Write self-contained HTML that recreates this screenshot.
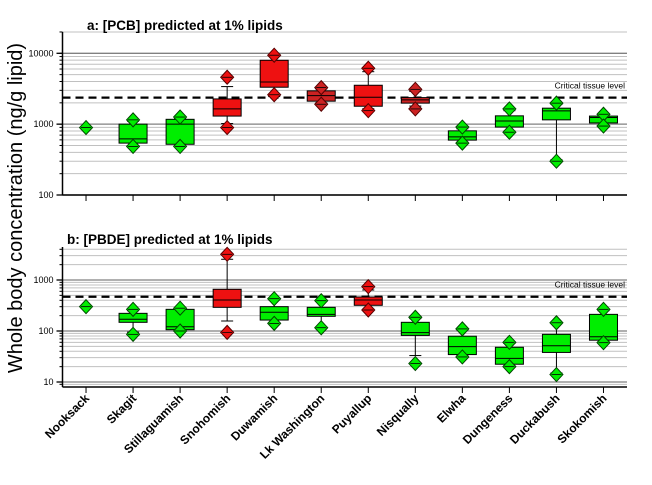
<!DOCTYPE html>
<html><head><meta charset="utf-8"><style>
html,body{margin:0;padding:0;background:#fff;}
svg{display:block;font-family:"Liberation Sans",Arial,sans-serif;}
</style></head><body>
<svg id="chart" width="652" height="485" viewBox="0 0 652 485"></svg>
<script>
const categories=["Nooksack","Skagit","Stillaguamish","Snohomish","Duwamish","Lk Washington","Puyallup","Nisqually","Elwha","Dungeness","Duckabush","Skokomish"];
// Panel a: PCB
const pcbQ1=[null,540,520,1300,3320,2110,1790,1980,595,910,1150,1040];
const pcbMed=[null,620,1000,1640,3940,2530,2400,2200,660,1110,1540,1240];
const pcbQ3=[null,1000,1170,2270,7970,2950,3540,2370,805,1310,1680,1300];
const pcbWLo=[null,560,540,1020,2450,2000,1650,1800,560,800,315,960];
const pcbWHi=[null,1100,1200,3390,9500,3150,5500,2900,860,1550,1900,1340];
const pcbDHi=[895,1150,1260,4590,9400,3280,6150,3100,910,1640,1980,1380];
const pcbDLo=[null,485,485,895,2600,1910,1550,1640,540,770,300,940];
const pcbColor=["g","g","g","r","r","d","r","d","g","g","g","g"];
const pcbCritical=2370;
// Panel b: PBDE
const pbdeQ1=[null,148,106,291,164,194,319,82,34.5,22.3,38,66];
const pbdeMed=[null,170,121,405,233,212,405,93,49.5,29,51.5,77];
const pbdeQ3=[null,222,266,657,300,291,464,148,79,48,86,212];
const pbdeWLo=[null,95,102,157,145,120,270,33,33,21,15,62];
const pbdeWHi=[null,250,275,2550,410,380,637,175,105,57,140,250];
const pbdeDHi=[300,266,280,3190,430,393,740,186,110,60,145,266];
const pbdeDLo=[null,86,100,94,141,116,258,23,31,20,14,59];
const pbdeColor=["g","g","g","r","g","g","r","g","g","g","g","g"];
const pbdeCritical=470;
const aTicks=["100","1000","10000"];
const bTicks=["10","100","1000"];

const svg=document.getElementById('chart');
const NS='http://www.w3.org/2000/svg';
function mk(tag,attrs,parent){const e=document.createElementNS(NS,tag);for(const k in attrs)e.setAttribute(k,attrs[k]);(parent||svg).appendChild(e);return e;}
const X0=62.5,X1=627,band=(X1-X0)/categories.length;
function xs(i){return X0+band*(i+0.5);}
const fills={g:"#00ee00",r:"#ee1111",d:"#cc2222"};
const strokes={g:"#004400",r:"#550000",d:"#550000"};

function panel(cfg){
  const {top,bottom,lo,hi,ys,name}=cfg;
  const g=mk('g',{});
  
  
  // grid
  for(let d=Math.floor(Math.log10(lo));d<=Math.ceil(Math.log10(hi));d++){
    for(let m=1;m<10;m++){
      const v=m*Math.pow(10,d); if(v<lo||v>hi)continue;
      const y=ys(v);
      const l=mk('line',{x1:X0,x2:X1,y1:y,y2:y,stroke:m==1?"#808080":"#c0c0c0","stroke-width":m==1?1.3:1},g);
      
      
      const t=mk('line',{x1:X0-3,x2:X0,y1:y,y2:y,stroke:"#000","stroke-width":1},g);
      
      
    }
  }
  cfg.ticks.forEach(s=>{
    const y=ys(+s);
    const tl=mk('line',{x1:X0-6,x2:X0,y1:y,y2:y,stroke:"#000","stroke-width":1.3},g);
    
    
    const t=mk('text',{x:X0-9,y:y+3,"font-size":9,"text-anchor":"end",fill:"#000"},g);
    t.textContent=s;
    
    
  });
  // axes
  const ax=mk('line',{x1:X0,x2:X0,y1:top,y2:bottom,stroke:"#000","stroke-width":1.5},g);
  
  
  const bx=mk('line',{x1:X0,x2:X1,y1:bottom,y2:bottom,stroke:"#000","stroke-width":1.5},g);
  
  
  categories.forEach((c,i)=>{
    const t=mk('line',{x1:xs(i),x2:xs(i),y1:bottom,y2:bottom+6,stroke:"#000","stroke-width":1},g);
    
    
  });
  // critical line
  const cy=ys(cfg.crit);
  const cl=mk('line',{x1:X0,x2:X1,y1:cy,y2:cy,stroke:"#000","stroke-width":2.2,"stroke-dasharray":"8,5"},g);
  
  
  const ct=mk('text',{x:X1-2,y:cy-9,"font-size":8.5,"text-anchor":"end",fill:"#000"},g);
  ct.textContent="Critical tissue level";
  
  
  // title
  const tt=mk('text',{x:cfg.tx,y:cfg.ty,"font-size":13.5,"font-weight":"bold",fill:"#000"},g);
  tt.textContent=cfg.title;
  
  
  // boxes
  categories.forEach((c,i)=>{
    const x=xs(i),col=cfg.col[i],f=fills[col],s=strokes[col];
    const bg=mk('g',{},g);
    
    
    if(cfg.q1[i]!=null){
      const w=14;
      mk('line',{x1:x,x2:x,y1:ys(cfg.wHi[i]),y2:ys(cfg.wLo[i]),stroke:"#000","stroke-width":1},bg);
      [cfg.wHi[i],cfg.wLo[i]].forEach(v=>mk('line',{x1:x-6,x2:x+6,y1:ys(v),y2:ys(v),stroke:"#000","stroke-width":1},bg));
      const y3=ys(cfg.q3[i]),y1=ys(cfg.q1[i]);
      mk('rect',{x:x-w,y:y3,width:2*w,height:Math.max(1,y1-y3),fill:f,stroke:"#000","stroke-width":1},bg);
      const ym=ys(cfg.med[i]);
      mk('line',{x1:x-w,x2:x+w,y1:ym,y2:ym,stroke:"#000","stroke-width":1},bg);
    }
    [cfg.dHi[i],cfg.dLo[i]].forEach(v=>{
      if(v==null)return;
      const y=ys(v);
      const d=mk('polygon',{points:`${x},${y-7} ${x+6.5},${y} ${x},${y+7} ${x-6.5},${y}`,fill:f,stroke:s,"stroke-width":1},bg);
      
      
      mk('line',{x1:x-5,x2:x+5,y1:y,y2:y,stroke:"#000","stroke-width":0.8},bg);
    });
  });
}
function logScale(top,bottom,lo,hi){return v=>bottom-(Math.log10(v)-Math.log10(lo))/(Math.log10(hi)-Math.log10(lo))*(bottom-top);}
// panel a: 100 at 195, 10000 at 53.3
const ysA=v=>195-(Math.log10(v)-2)*70.85;
panel({name:'pcb-panel',top:32,bottom:195,lo:100,hi:20000,ys:ysA,ticks:aTicks,crit:pcbCritical,title:"a: [PCB] predicted at 1% lipids",tx:87,ty:30,
  q1:pcbQ1,med:pcbMed,q3:pcbQ3,wLo:pcbWLo,wHi:pcbWHi,dHi:pcbDHi,dLo:pcbDLo,col:pcbColor});
// panel b: 1000 at 280, 10 at 382
const ysB=v=>382-(Math.log10(v)-1)*51;
panel({name:'pbde-panel',top:247,bottom:387,lo:8.1,hi:4500,ys:ysB,ticks:bTicks,crit:pbdeCritical,title:"b: [PBDE] predicted at 1% lipids",tx:67,ty:244,
  q1:pbdeQ1,med:pbdeMed,q3:pbdeQ3,wLo:pbdeWLo,wHi:pbdeWHi,dHi:pbdeDHi,dLo:pbdeDLo,col:pbdeColor});
// x labels
categories.forEach((c,i)=>{
  const x=xs(i)+4,y=399;
  const t=mk('text',{x:x,y:y,"font-size":12,"font-weight":"bold","text-anchor":"end",transform:`rotate(-45 ${x} ${y})`,fill:"#000"});
  t.textContent=c;
  
  
});
const yl=mk('text',{x:0,y:0,"font-size":20,"text-anchor":"middle",transform:"translate(22 208) rotate(-90)",fill:"#000"});
yl.textContent="Whole body concentration (ng/g lipid)";


</script>
</body></html>
